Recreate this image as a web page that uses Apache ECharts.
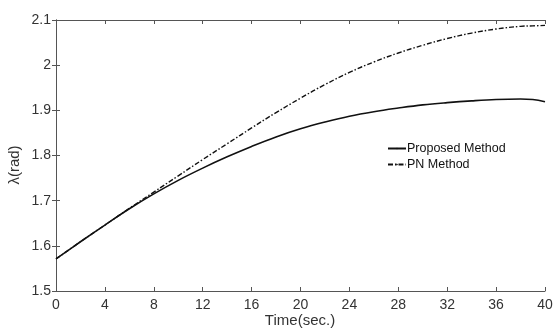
<!DOCTYPE html>
<html><head><meta charset="utf-8">
<script src="https://cdn.jsdelivr.net/npm/echarts@6/dist/echarts.min.js"></script>
<style>html,body{margin:0;padding:0;background:#fff}#c{width:556px;height:332px}</style>
</head><body><div id="c"></div>
<script>
const time = [0,2,4,6,8,10,12,14,16,18,20,22,24,26,28,30,32,34,36,38,39,40];
const proposed = [1.571,1.609,1.646,1.682,1.715,1.745,1.772,1.797,1.820,1.841,1.859,1.874,1.887,1.897,1.905,1.912,1.917,1.921,1.924,1.925,1.924,1.919];
const pn = [1.571,1.609,1.646,1.683,1.719,1.755,1.791,1.826,1.861,1.895,1.927,1.957,1.984,2.007,2.027,2.044,2.059,2.071,2.080,2.086,2.087,2.088];
const xTitle = 'Time(sec.)';
const yTitle = 'λ(rad)';
const seriesNames = ['Proposed Method','PN Method'];

const font = 'Liberation Sans, Arial, sans-serif';
const axisCol = '#555';
const chart = echarts.init(document.getElementById('c'), null, {renderer:'canvas'});
const pair = a => time.map((t,i)=>[t,a[i]]);
const xBase = {type:'value', min:0, max:40, interval:4,
  axisLine:{lineStyle:{color:axisCol,width:1}},
  axisTick:{inside:true,length:4,lineStyle:{color:axisCol}},
  splitLine:{show:false}};
const yBase = {type:'value', min:1.5, max:2.1, interval:0.1,
  axisLine:{show:true,lineStyle:{color:axisCol,width:1}},
  axisTick:{show:true,inside:true,length:4,lineStyle:{color:axisCol}},
  splitLine:{show:false}};
chart.setOption({
  animation:false,
  grid:{left:56,right:11,top:20,bottom:41,containLabel:false},
  legend:{orient:'vertical',left:382,top:137,itemGap:3,itemWidth:18,itemHeight:2,
    textStyle:{fontFamily:font,fontSize:12.5,color:'#111',padding:[0,0,0,-4]},
    data:seriesNames},
  graphic:[
    {type:'text', x:300, y:321, style:{text:xTitle, font:'15px '+font, fill:'#333', textAlign:'center', textVerticalAlign:'middle'}},
    {type:'text', x:15, y:165, rotation:Math.PI/2, style:{text:yTitle, font:'15px '+font, fill:'#333', textAlign:'center', textVerticalAlign:'middle'}}
  ],
  xAxis:[
    Object.assign({}, xBase, {position:'bottom',
      axisLabel:{fontFamily:font,fontSize:14,color:'#333',margin:7}}),
    Object.assign({}, xBase, {position:'top', axisLabel:{show:false}})
  ],
  yAxis:[
    Object.assign({}, yBase, {position:'left',
      axisLabel:{fontFamily:font,fontSize:14,color:'#333',margin:5,
        formatter:v=>String(+v.toFixed(1))}}),
    Object.assign({}, yBase, {position:'right', axisLabel:{show:false}})
  ],
  series:[
    {name:seriesNames[0], type:'line', data:pair(proposed), smooth:0.4, symbol:'none',
      lineStyle:{color:'#111',width:1.6,type:'solid'}, itemStyle:{color:'#111'}},
    {name:seriesNames[1], type:'line', data:pair(pn), smooth:0.4, symbol:'none',
      lineStyle:{color:'#111',width:1.4,type:[5,2,1.5,2]}, itemStyle:{color:'#111'}}
  ]
});
</script></body></html>
